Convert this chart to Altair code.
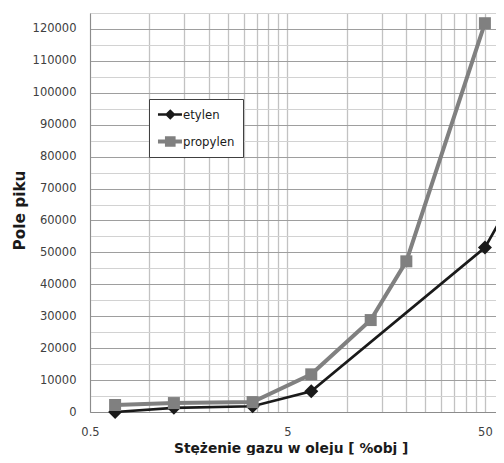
import altair as alt
import pandas as pd

# --- data ---
x_etylen = [0.67, 1.33, 3.33, 6.6, 50, 65]
y_etylen = [0, 1300, 1800, 6500, 51500, 64000]
x_propylen = [0.67, 1.33, 3.33, 6.6, 13.2, 20, 50]
y_propylen = [2200, 2800, 3100, 11800, 28800, 47200, 121800]
series_names = ["etylen", "propylen"]
series_colors = ["#1a1a1a", "#808080"]

x_grid = [0.5, 1, 1.5, 2, 2.5, 3, 3.5, 4, 4.5, 5,
          10, 15, 20, 25, 30, 35, 40, 45, 50]
x_labels = [0.5, 5, 50]
y_grid = list(range(0, 125001, 5000))

df_e = pd.DataFrame({"x": x_etylen, "y": y_etylen, "series": "etylen"})
df_p = pd.DataFrame({"x": x_propylen, "y": y_propylen, "series": "propylen"})

FONT = "DejaVu Sans"

X = alt.X(
    "x:Q",
    scale=alt.Scale(type="log", domain=[0.5, 56.9], nice=False),
    axis=alt.Axis(
        values=x_grid,
        format="~g",
        labelExpr="indexof([0.5, 5, 50], datum.value) >= 0 ? datum.label : ''",
        ticks=False,
        domainColor="#8c8c8c",
        gridColor="#c2c2c2",
        gridWidth=1.3,
        labelFont=FONT,
        labelFontSize=11.5,
        labelColor="#404040",
        labelBaseline="alphabetic",
        labelPadding=23.5,
        labelOverlap=False,
        labelFlush=False,
        labelBound=False,
        title="Stężenie gazu w oleju [ %obj ]",
        titleFont=FONT,
        titleFontWeight="bold",
        titleFontSize=13.8,
        titleColor="#1a1a1a",
        titleX=200.7,
        titleY=40.5,
        titleBaseline="alphabetic",
        titleAlign="center",
    ),
)

Y = alt.Y(
    "y:Q",
    scale=alt.Scale(domain=[0, 125000], nice=False),
    axis=alt.Axis(
        values=y_grid,
        format="d",
        labelExpr="datum.value % 10000 == 0 ? datum.label : ''",
        ticks=False,
        domainColor="#8c8c8c",
        gridColor={"condition": {"test": "datum.value % 10000 == 0", "value": "#9e9e9e"},
                   "value": "#d2d2d2"},
        gridWidth=1,
        labelFont=FONT,
        labelFontSize=11.5,
        labelColor="#404040",
        labelPadding=14,
        labelOverlap=False,
        title="Pole piku",
        titleFont=FONT,
        titleFontWeight="bold",
        titleFontSize=15.3,
        titleColor="#1a1a1a",
        titleAngle=270,
        titleX=-66,
        titleY=197,
        titleBaseline="alphabetic",
        titleAlign="center",
    ),
)

path_e = "M-0.87,-0.18L2.33,-0.18L2.33,0.18L-0.87,0.18Z M0.77,-0.71L1.48,0L0.77,0.71L0.06,0Z"
path_p = "M-0.87,-0.27L2.33,-0.27L2.33,0.27L-0.87,0.27Z M0.06,-0.71L1.48,-0.71L1.48,0.71L0.06,0.71Z"

legend = alt.Legend(
    title=None,
    orient="none",
    legendX=59,
    legendY=86,
    direction="vertical",
    padding=8,
    strokeColor="#404040",
    fillColor="white",
    symbolSize=225,
    symbolStrokeWidth=0,
    symbolType={"expr": "datum.value === 'etylen' ? '" + path_e + "' : '" + path_p + "'"},
    labelFont=FONT,
    labelFontSize=11.7,
    labelColor="#1a1a1a",
    labelOffset=11,
    rowPadding=12,
)

C = alt.Color("series:N",
              scale=alt.Scale(domain=series_names, range=series_colors),
              legend=legend)

eth_line = alt.Chart(df_e).mark_line(color=series_colors[0], strokeWidth=2.7).encode(x=X, y=Y)
eth_pt = alt.Chart(df_e).mark_point(shape="diamond", filled=True, size=196, opacity=1).encode(
    x=X, y=Y, color=C)
prop_line = alt.Chart(df_p).mark_line(color=series_colors[1], strokeWidth=4).encode(x=X, y=Y)
prop_pt = alt.Chart(df_p).mark_point(shape="square", filled=True, size=144, opacity=1).encode(
    x=X, y=Y, color=C)

chart = (
    alt.layer(eth_line, eth_pt, prop_line, prop_pt)
    .properties(
        width=406,
        height=399,
        autosize=alt.AutoSizeParams(type="none"),
        padding={"left": 82, "top": 5, "right": 0, "bottom": 43},
        background="white",
    )
    .configure_view(stroke="transparent")
)

chart.save("out.html", embed_options={"renderer": "svg", "actions": False})
